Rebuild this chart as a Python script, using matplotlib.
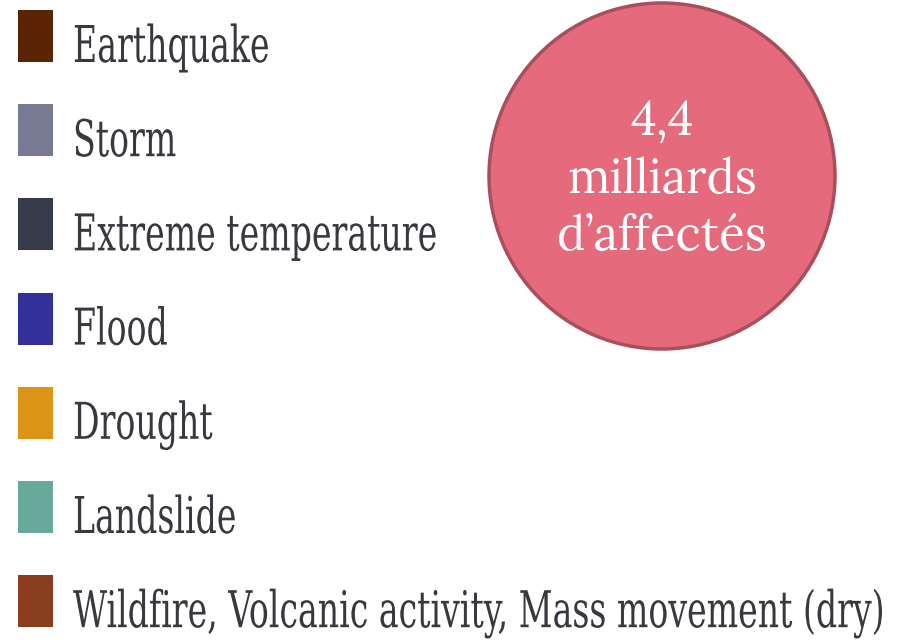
import matplotlib.pyplot as plt
from matplotlib.patches import Ellipse
from matplotlib.patheffects import AbstractPathEffect
from matplotlib.transforms import Affine2D

# data
categories = ['Earthquake', 'Storm', 'Extreme temperature', 'Flood', 'Drought',
              'Landslide', 'Wildfire, Volcanic activity, Mass movement (dry)']
colors = ['#5a2505', '#787a94', '#363b4a', '#33309a', '#dc9417', '#67aa9c', '#8b3e1f']
bubble_lines = ['4,4', 'milliards', 'd\u2019affectés']


class Stretch(AbstractPathEffect):
    # taller glyphs, same width (narrow typeface look)
    def __init__(self, sy):
        super().__init__()
        self.sy = sy

    def draw_path(self, renderer, gc, tpath, affine, rgbFace=None):
        renderer.draw_path(gc, tpath, Affine2D().scale(1, self.sy) + affine, rgbFace)


fig = plt.figure(figsize=(8.98, 6.40), dpi=100)
ax = fig.add_axes([0, 0, 1, 1])
ax.set_xlim(0, 898)
row_px = 94.2
first_px = 36
ax.set_ylim((640 - first_px) / row_px, -first_px / row_px)
ax.axis('off')

# legend squares
idx = list(range(len(categories)))
ax.barh(idx, [35] * len(idx), left=18, height=0.55, color=colors)

# legend labels
texts = []
for i, lab in enumerate(categories):
    t = ax.text(73, i + 26 / row_px, lab, ha='left', va='baseline',
                fontsize=30, family='DejaVu Serif', fontstretch='condensed',
                color='#38383f')
    texts.append(t)

r = fig.canvas.get_renderer()
w = max(t.get_window_extent(r).width for t in texts)
fs = 30 * 810 / w
sy = 37 / (0.729 * fs * 100 / 72)
for t in texts:
    t.set_fontsize(fs)
    t.set_path_effects([Stretch(sy)])

# bubble
cx, cy, rad = 662, 176, 173
ax.add_patch(Ellipse((cx, (cy - first_px) / row_px), 2 * rad, 2 * rad / row_px,
                     facecolor='#e56a7b', edgecolor='#a84e5c', lw=2.5))
btexts = []
for line, base in zip(bubble_lines, [135, 193, 250]):
    t = ax.text(cx, (base - first_px) / row_px, line, ha='center', va='baseline',
                fontsize=36, family='Lora', color='white')
    btexts.append(t)
bw = btexts[1].get_window_extent(r).width
for t in btexts:
    t.set_fontsize(36 * 190 / bw)

plt.savefig('out.png', dpi=100)
